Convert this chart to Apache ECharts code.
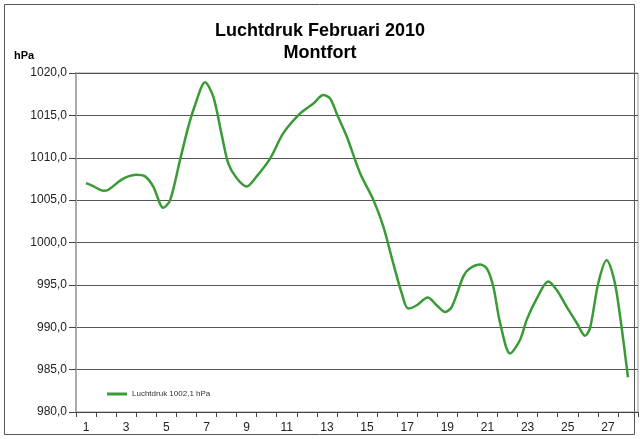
<!DOCTYPE html>
<html>
<head>
<meta charset="utf-8">
<script src="https://cdn.jsdelivr.net/npm/echarts@6/dist/echarts.min.js"></script>
<style>
html,body{margin:0;padding:0;background:#fff;}
#chart{width:640px;height:439px;}
</style>
</head>
<body>
<div id="chart"></div>
<script>
// Category labels (days of February 2010)
const dayLabels = ['1','2','3','4','5','6','7','8','9','10','11','12','13','14','15','16','17','18','19','20','21','22','23','24','25','26','27','28'];
// Y tick values
const yTicks = [980, 985, 990, 995, 1000, 1005, 1010, 1015, 1020];
const times = [1.0, 1.4, 1.86, 2.1, 2.7, 3.1, 3.5, 3.94, 4.35, 4.85, 5.19, 5.68, 6.1, 6.43, 6.93, 7.34, 7.76, 8.09, 8.5, 9.0, 9.5, 10.17, 10.83, 11.66, 12.33, 12.82, 13.16, 13.49, 13.99, 14.65, 15.32, 15.81, 16.31, 16.73, 17.05, 17.48, 18.02, 18.47, 18.89, 19.22, 19.8, 20.1, 20.65, 20.98, 21.29, 21.63, 22.13, 22.62, 22.96, 23.46, 24.03, 24.45, 24.95, 25.45, 25.86, 26.11, 26.52, 26.94, 27.27, 27.52, 28.0];
const pressure = [1007.0, 1006.6, 1006.1, 1006.2, 1007.3, 1007.8, 1008.0, 1007.8, 1006.6, 1004.1, 1005.0, 1009.7, 1013.7, 1016.2, 1018.9, 1017.2, 1012.7, 1009.3, 1007.6, 1006.6, 1007.8, 1009.9, 1012.9, 1015.2, 1016.4, 1017.4, 1017.0, 1015.2, 1012.5, 1008.2, 1005.0, 1001.9, 997.5, 994.0, 992.2, 992.6, 993.5, 992.6, 991.8, 992.4, 996.0, 996.9, 997.4, 996.9, 994.8, 990.5, 986.9, 988.5, 990.9, 993.4, 995.4, 994.4, 992.4, 990.5, 989.0, 989.9, 995.2, 997.9, 996.0, 992.8, 984.1];
const seriesName = 'Luchtdruk 1002,1 hPa';

const chart = echarts.init(document.getElementById('chart'), null, {renderer: 'canvas'});
const font = '"Liberation Sans", Arial, sans-serif';
chart.setOption({
  animation: false,
  backgroundColor: '#fff',
  title: {
    text: 'Luchtdruk Februari 2010\nMontfort',
    left: 320, top: 20, textAlign: 'center', padding: 0,
    textStyle: {fontFamily: font, fontSize: 18, fontWeight: 'bold', color: '#000', lineHeight: 22}
  },
  graphic: [
    {type: 'rect', shape: {x: 4.5, y: 4.5, width: 630, height: 430}, style: {fill: 'none', stroke: '#555', lineWidth: 1}, z: -1},
    {type: 'text', left: 14, top: 50, style: {text: 'hPa', font: 'bold 11px "Liberation Sans", Arial, sans-serif', fill: '#000'}}
  ],
  legend: {
    left: 107, top: 390, itemWidth: 20, itemHeight: 3, icon: 'rect', padding: 0,
    textStyle: {fontFamily: font, fontSize: 8, color: '#333'},
    data: [seriesName]
  },
  grid: {left: 76, right: 2, top: 73, bottom: 27, show: true, borderColor: '#999', borderWidth: 1},
  xAxis: [
    {
      type: 'category', data: dayLabels, boundaryGap: true, position: 'bottom',
      axisLine: {lineStyle: {color: '#444', width: 1}},
      axisTick: {show: true, interval: 0, length: 5, lineStyle: {color: '#444'}},
      axisLabel: {interval: 1, fontFamily: font, fontSize: 12, color: '#222', margin: 10},
      splitLine: {show: false}
    },
    {type: 'value', min: 0.5, max: 28.5, show: false}
  ],
  yAxis: {
    type: 'value', min: yTicks[0], max: yTicks[yTicks.length - 1], interval: 5,
    axisLine: {show: true, lineStyle: {color: '#aaa', width: 2}},
    axisTick: {show: true, length: 7, lineStyle: {color: '#444'}},
    axisLabel: {fontFamily: font, fontSize: 12, color: '#222', margin: 9,
      formatter: v => v.toFixed(1).replace('.', ',')},
    splitLine: {show: true, lineStyle: {color: '#555', width: 1}}
  },
  series: [{
    name: seriesName, type: 'line', xAxisIndex: 1,
    data: times.map((t, i) => [t, pressure[i]]),
    smooth: 0.3, symbol: 'none',
    lineStyle: {color: '#3a9a36', width: 2.5},
    itemStyle: {color: '#3a9a36'}
  }]
});
</script>
</body>
</html>
